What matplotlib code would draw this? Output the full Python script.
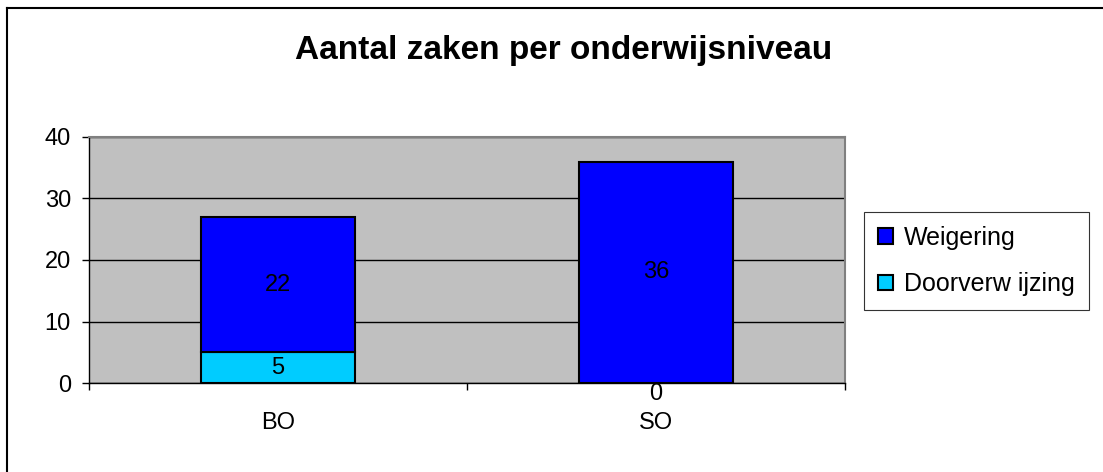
import matplotlib
matplotlib.use('Agg')
import matplotlib.pyplot as plt
from matplotlib.lines import Line2D
from matplotlib.patches import Patch

# data
categories = ['BO', 'SO']
doorverwijzing = [5, 0]
weigering = [22, 36]
series_names = ['Weigering', 'Doorverw ijzing']

plt.rcParams['font.family'] = ['Liberation Sans', 'DejaVu Sans']

fig = plt.figure(figsize=(11.03, 4.72), dpi=100)
ax = fig.add_axes([89 / 1103, 1 - 383 / 472, 756 / 1103, 246 / 472])
ax.set_facecolor('#C0C0C0')

x = list(range(len(categories)))
w = 0.407
ax.bar(x, doorverwijzing, w, color='#00CCFF', edgecolor='black', linewidth=1.5, zorder=3)
ax.bar(x, weigering, w, bottom=doorverwijzing, color='#0000FF', edgecolor='black', linewidth=1.5, zorder=3)

# data labels in the middle of each segment
for i in x:
    d = doorverwijzing[i]
    if d > 0:
        ax.text(i, d / 2, str(d), ha='center', va='center', fontsize=17, zorder=4)
    else:
        ax.annotate(str(d), (i, 0), xytext=(0, -11), textcoords='offset pixels',
                    ha='center', va='center', fontsize=17, zorder=4, annotation_clip=False)
    ax.text(i, d + weigering[i] / 2, str(weigering[i]), ha='center', va='center', fontsize=17, zorder=4)

ax.set_xlim(-0.5, len(categories) - 0.5)
ax.set_ylim(0, 40)
ax.set_yticks([0, 10, 20, 30, 40])
ax.set_xticks(x)
ax.set_xticklabels(categories, fontsize=17)
ax.tick_params(axis='x', length=0, pad=21)
ax.set_xticks([-0.5, 0.5, 1.5], minor=True)
ax.tick_params(axis='x', which='minor', length=5, width=1, direction='out', color='black')
ax.tick_params(axis='y', labelsize=17, length=5, width=1, direction='out', color='black', pad=8)
ax.yaxis.grid(True, color='black', linewidth=1, zorder=1)
ax.set_axisbelow(True)

for side in ['top', 'right']:
    ax.spines[side].set_color('#808080')
    ax.spines[side].set_linewidth(1.5)
for side in ['left', 'bottom']:
    ax.spines[side].set_color('black')
    ax.spines[side].set_linewidth(1)

fig.text(0.5107, 1 - 50 / 472, 'Aantal zaken per onderwijsniveau', ha='center', va='center',
         fontsize=24, fontweight='bold')

handles = [Patch(facecolor='#0000FF', edgecolor='black', linewidth=1.5),
           Patch(facecolor='#00CCFF', edgecolor='black', linewidth=1.5)]
leg = fig.legend(handles, series_names, loc='upper left', bbox_to_anchor=(864 / 1103, 1 - 212 / 472),
                 fontsize=18, fancybox=False, framealpha=1, edgecolor='#333333',
                 handlelength=0.6, handleheight=0.6, handletextpad=0.45, borderpad=0.55,
                 labelspacing=0.9, borderaxespad=0)
leg.get_frame().set_linewidth(0.8)

# outer chart border (only top and left are visible)
fig.add_artist(Line2D([7 / 1103, 1.0], [1 - 8 / 472, 1 - 8 / 472], color='black', linewidth=1.5))
fig.add_artist(Line2D([7 / 1103, 7 / 1103], [0.0, 1 - 8 / 472], color='black', linewidth=1.5))

fig.savefig('out.png', dpi=100)
